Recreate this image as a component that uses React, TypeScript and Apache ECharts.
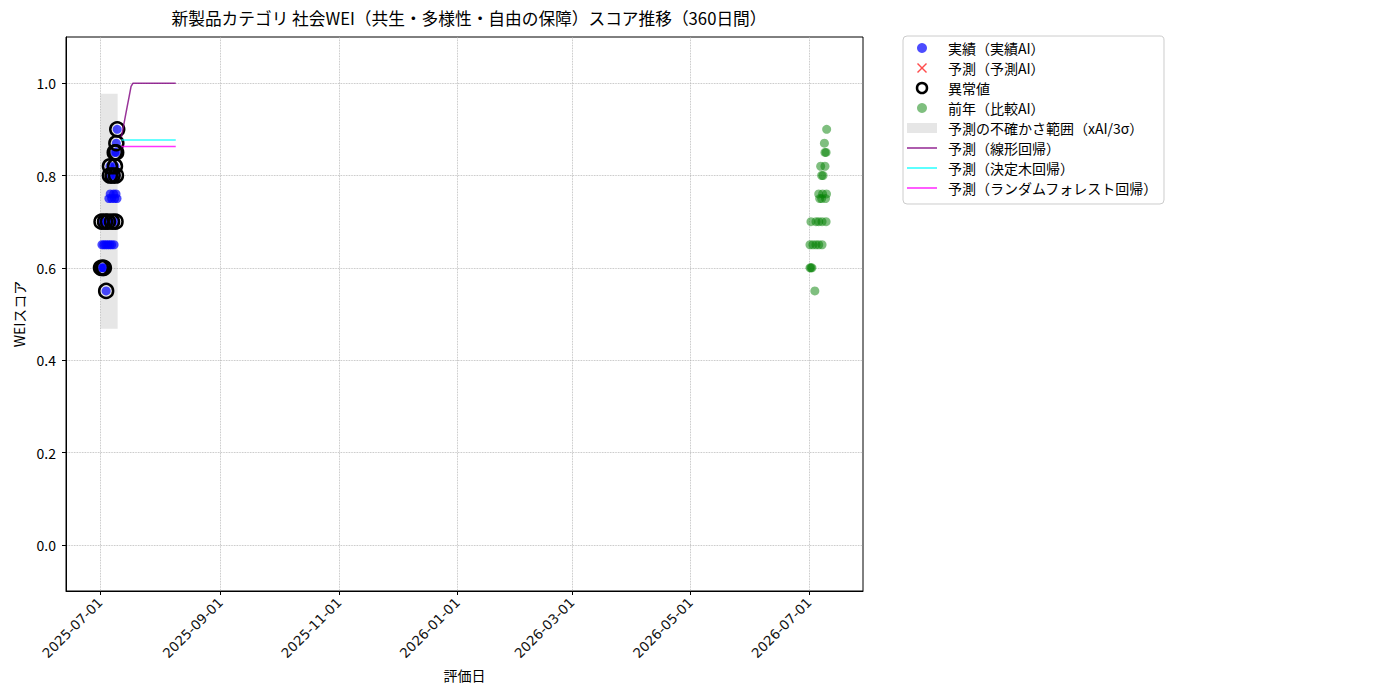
import { useEffect, useRef } from 'react';
import * as echarts from 'echarts';

// "YYYY-MM-DD HH" -> local timestamp
const t = (s: string) => {
  const [d, h] = s.split(' ');
  const [Y, M, D] = d.split('-').map(Number);
  return new Date(Y, M - 1, D, h ? Number(h) : 0).getTime();
};

const titleText = '新製品カテゴリ 社会WEI（共生・多様性・自由の保障）スコア推移（360日間）';

const xMin = '2025-06-13 12';
const xMax = '2026-07-28 19';
const xTickDates = ['2025-07-01', '2025-09-01', '2025-11-01', '2026-01-01', '2026-03-01', '2026-05-01', '2026-07-01'];
const yTicks = [0, 0.2, 0.4, 0.6, 0.8, 1.0];

// 実績（実績AI）
const actualDates = [
  '2025-07-01 12', '2025-07-02 12', '2025-07-03 00',
  '2025-07-04 04',
  '2025-07-02 00', '2025-07-03 00', '2025-07-04 00', '2025-07-05 00', '2025-07-06 00', '2025-07-07 00', '2025-07-08 06',
  '2025-07-01 19', '2025-07-03 14', '2025-07-05 02', '2025-07-07 05', '2025-07-09 00',
  '2025-07-05 14', '2025-07-07 00', '2025-07-08 12', '2025-07-09 18',
  '2025-07-06 06', '2025-07-08 00', '2025-07-09 06',
  '2025-07-06 03', '2025-07-07 12', '2025-07-09 05',
  '2025-07-06 03', '2025-07-08 17',
  '2025-07-08 14', '2025-07-09 08',
  '2025-07-09 10',
  '2025-07-09 21',
];
const actualValues = [
  0.60, 0.60, 0.60,
  0.55,
  0.65, 0.65, 0.65, 0.65, 0.65, 0.65, 0.65,
  0.70, 0.70, 0.70, 0.70, 0.70,
  0.75, 0.75, 0.75, 0.75,
  0.76, 0.76, 0.76,
  0.80, 0.80, 0.80,
  0.82, 0.82,
  0.85, 0.85,
  0.87,
  0.90,
];

// 予測（予測AI）: no points in this chart
const predAiDates: string[] = [];
const predAiValues: number[] = [];

// 異常値
const outlierDates = [
  '2025-07-01 12', '2025-07-02 12', '2025-07-03 00',
  '2025-07-04 04',
  '2025-07-01 19', '2025-07-03 14', '2025-07-05 02', '2025-07-07 05', '2025-07-09 00',
  '2025-07-06 03', '2025-07-07 12', '2025-07-09 05',
  '2025-07-06 03', '2025-07-08 17',
  '2025-07-08 14', '2025-07-09 08',
  '2025-07-09 10',
  '2025-07-09 21',
];
const outlierValues = [
  0.60, 0.60, 0.60,
  0.55,
  0.70, 0.70, 0.70, 0.70, 0.70,
  0.80, 0.80, 0.80,
  0.82, 0.82,
  0.85, 0.85,
  0.87,
  0.90,
];

// 前年（比較AI）
const prevDates = [
  '2026-07-01 12', '2026-07-02 00', '2026-07-02 12',
  '2026-07-04 00',
  '2026-07-01 12', '2026-07-03 00', '2026-07-04 14', '2026-07-06 00', '2026-07-07 17',
  '2026-07-02 00', '2026-07-04 14', '2026-07-06 00', '2026-07-07 17', '2026-07-09 19',
  '2026-07-06 12', '2026-07-07 12', '2026-07-09 12',
  '2026-07-06 00', '2026-07-08 00', '2026-07-10 00',
  '2026-07-07 12', '2026-07-08 05',
  '2026-07-07 00', '2026-07-09 05',
  '2026-07-09 05', '2026-07-09 19',
  '2026-07-08 22',
  '2026-07-10 02',
];
const prevValues = [
  0.60, 0.60, 0.60,
  0.55,
  0.65, 0.65, 0.65, 0.65, 0.65,
  0.70, 0.70, 0.70, 0.70, 0.70,
  0.75, 0.75, 0.75,
  0.76, 0.76, 0.76,
  0.80, 0.80,
  0.82, 0.82,
  0.85, 0.85,
  0.87,
  0.90,
];

// 予測の不確かさ範囲（xAI/3σ）
const bandDates = ['2025-07-01 08', '2025-07-10 02'];
const bandLower = [0.468, 0.468];
const bandUpper = [0.977, 0.977];

// 予測ライン
const predDates = [
  '2025-07-12', '2025-07-13', '2025-07-14', '2025-07-15', '2025-07-16', '2025-07-17', '2025-07-18',
  '2025-07-19', '2025-07-20', '2025-07-21', '2025-07-22', '2025-07-23', '2025-07-24', '2025-07-25',
  '2025-07-26', '2025-07-27', '2025-07-28', '2025-07-29', '2025-07-30', '2025-07-31', '2025-08-01',
  '2025-08-02', '2025-08-03', '2025-08-04', '2025-08-05', '2025-08-06', '2025-08-07', '2025-08-08',
  '2025-08-09',
];
const linearPred = [
  0.883, 0.905, 0.927, 0.949, 0.971, 0.993, 1.0,
  1.0, 1.0, 1.0, 1.0, 1.0, 1.0, 1.0,
  1.0, 1.0, 1.0, 1.0, 1.0, 1.0, 1.0,
  1.0, 1.0, 1.0, 1.0, 1.0, 1.0, 1.0,
  1.0,
];
const treePred = [
  0.877, 0.877, 0.877, 0.877, 0.877, 0.877, 0.877,
  0.877, 0.877, 0.877, 0.877, 0.877, 0.877, 0.877,
  0.877, 0.877, 0.877, 0.877, 0.877, 0.877, 0.877,
  0.877, 0.877, 0.877, 0.877, 0.877, 0.877, 0.877,
  0.877,
];
const forestPred = [
  0.863, 0.863, 0.863, 0.863, 0.863, 0.863, 0.863,
  0.863, 0.863, 0.863, 0.863, 0.863, 0.863, 0.863,
  0.863, 0.863, 0.863, 0.863, 0.863, 0.863, 0.863,
  0.863, 0.863, 0.863, 0.863, 0.863, 0.863, 0.863,
  0.863,
];

const FONT = '"Noto Sans CJK JP", "Noto Sans", sans-serif';
const gridLine = { show: true, lineStyle: { color: '#b0b0b0', type: 'dotted' as const, width: 0.8 } };
const xIcon = 'path://M1,0L5,4L9,0L10,1L6,5L10,9L9,10L5,6L1,10L0,9L4,5L0,1Z';
const lineIcon = 'path://M0,0H30V1.6H0Z';

const pad = (n: number) => String(n).padStart(2, '0');
const fmtDate = (v: number) => {
  const d = new Date(v);
  return `${d.getFullYear()}-${pad(d.getMonth() + 1)}-${pad(d.getDate())}`;
};

const pairs = (dates: string[], values: number[]) => dates.map((d, i) => [t(d), values[i]]);

export default function App() {
  const chartRef = useRef<HTMLDivElement>(null);

  useEffect(() => {
    if (!chartRef.current) return;
    const chart = echarts.init(chartRef.current, undefined, { renderer: 'svg' });

    const bandName = '予測の不確かさ範囲（xAI/3σ）';

    const option: echarts.EChartsOption = {
      animation: false,
      backgroundColor: '#fff',
      textStyle: { fontFamily: FONT },
      title: {
        text: titleText,
        left: 464,
        top: 5,
        textAlign: 'center',
        textStyle: { fontFamily: FONT, fontSize: 16.7, fontWeight: 'normal', color: '#000' },
      },
      grid: {
        left: 66,
        right: 537,
        top: 37,
        bottom: 109,
        show: true,
        borderColor: '#000',
        borderWidth: 1,
        backgroundColor: 'transparent',
      },
      legend: {
        orient: 'vertical',
        left: 903,
        top: 36,
        padding: [5, 6, 9, 4],
        itemWidth: 30,
        itemHeight: 10,
        itemGap: 6,
        borderColor: '#ccc',
        borderWidth: 1,
        borderRadius: 4,
        backgroundColor: 'rgba(255,255,255,0.8)',
        textStyle: { fontFamily: FONT, fontSize: 14, color: '#000', padding: [0, 0, 0, 6] },
        data: [
          { name: '実績（実績AI）', icon: 'circle', itemStyle: { color: 'blue', opacity: 0.7 } },
          { name: '予測（予測AI）', icon: xIcon, itemStyle: { color: 'red', opacity: 0.7 } },
          { name: '異常値', icon: 'circle', itemStyle: { color: 'rgba(0,0,0,0)', borderColor: '#000', borderWidth: 2.5, opacity: 1 } },
          { name: '前年（比較AI）', icon: 'circle', itemStyle: { color: 'green', opacity: 0.5 } },
          { name: bandName, icon: 'rect', itemStyle: { color: 'rgba(128,128,128,0.2)', opacity: 1 } },
          { name: '予測（線形回帰）', icon: lineIcon, itemStyle: { color: 'rgba(128,0,128,0.8)', opacity: 1 } },
          { name: '予測（決定木回帰）', icon: lineIcon, itemStyle: { color: 'rgba(0,255,255,0.8)', opacity: 1 } },
          { name: '予測（ランダムフォレスト回帰）', icon: lineIcon, itemStyle: { color: 'rgba(255,0,255,0.8)', opacity: 1 } },
        ],
      },
      xAxis: {
        type: 'value',
        min: t(xMin),
        max: t(xMax),
        name: '評価日',
        nameLocation: 'middle',
        nameGap: 77,
        nameTextStyle: { fontFamily: FONT, fontSize: 14, color: '#000' },
        axisLine: { show: true, onZero: false, lineStyle: { color: '#000', width: 1 } },
        axisTick: { show: true, length: 4, lineStyle: { color: '#000' }, customValues: xTickDates.map(t) },
        axisLabel: {
          customValues: xTickDates.map(t),
          rotate: 45,
          margin: 9,
          fontSize: 13.5,
          color: '#111',
          fontFamily: '"DejaVu Sans", sans-serif',
          formatter: (v: number) => fmtDate(v),
        },
        splitLine: gridLine,
      },
      yAxis: {
        type: 'value',
        min: -0.1,
        max: 1.1,
        name: 'WEIスコア',
        nameLocation: 'middle',
        nameGap: 40,
        nameRotate: 90,
        nameTextStyle: { fontFamily: FONT, fontSize: 14, color: '#000' },
        axisLine: { show: true, onZero: false, lineStyle: { color: '#000', width: 1 } },
        axisTick: { show: true, length: 4, lineStyle: { color: '#000' }, customValues: yTicks },
        axisLabel: {
          customValues: yTicks,
          margin: 10,
          fontSize: 14,
          color: '#000',
          fontFamily: FONT,
          formatter: (v: number) => v.toFixed(1),
        },
        splitLine: gridLine,
      },
      series: [
        {
          type: 'custom',
          name: bandName,
          itemStyle: { color: 'rgba(128,128,128,0.2)' },
          encode: { x: 0, y: [1, 2] },
          data: bandDates.map((d, i) => [t(d), bandLower[i], bandUpper[i]]),
          renderItem: (params: any, api: any) => {
            const i = params.dataIndex;
            if (i >= bandDates.length - 1) return null;
            const x0 = t(bandDates[i]);
            const x1 = t(bandDates[i + 1]);
            const pts = [
              api.coord([x0, bandLower[i]]),
              api.coord([x1, bandLower[i + 1]]),
              api.coord([x1, bandUpper[i + 1]]),
              api.coord([x0, bandUpper[i]]),
            ];
            return { type: 'polygon', shape: { points: pts }, style: { fill: 'rgba(128,128,128,0.2)' } };
          },
        },
        {
          type: 'scatter',
          name: '前年（比較AI）',
          symbol: 'circle',
          symbolSize: 9,
          itemStyle: { color: 'green', opacity: 0.5 },
          data: pairs(prevDates, prevValues),
        },
        {
          type: 'scatter',
          name: '実績（実績AI）',
          symbol: 'circle',
          symbolSize: 9,
          itemStyle: { color: 'blue', opacity: 0.7 },
          data: pairs(actualDates, actualValues),
        },
        {
          type: 'scatter',
          name: '予測（予測AI）',
          symbol: xIcon,
          symbolSize: 10,
          itemStyle: { color: 'red', opacity: 0.7 },
          data: pairs(predAiDates, predAiValues),
        },
        {
          type: 'scatter',
          name: '異常値',
          symbol: 'circle',
          symbolSize: 14,
          itemStyle: { color: 'rgba(0,0,0,0)', borderColor: '#000', borderWidth: 2.5, opacity: 1 },
          data: pairs(outlierDates, outlierValues),
        },
        {
          type: 'line',
          name: '予測（線形回帰）',
          symbol: 'none',
          color: 'rgba(128,0,128,0.8)',
          lineStyle: { width: 1.5, color: 'rgba(128,0,128,0.8)' },
          data: pairs(predDates, linearPred),
        },
        {
          type: 'line',
          name: '予測（決定木回帰）',
          symbol: 'none',
          color: 'rgba(0,255,255,0.8)',
          lineStyle: { width: 1.5, color: 'rgba(0,255,255,0.8)' },
          data: pairs(predDates, treePred),
        },
        {
          type: 'line',
          name: '予測（ランダムフォレスト回帰）',
          symbol: 'none',
          color: 'rgba(255,0,255,0.8)',
          lineStyle: { width: 1.5, color: 'rgba(255,0,255,0.8)' },
          data: pairs(predDates, forestPred),
        },
      ],
    };

    chart.setOption(option);
    return () => chart.dispose();
  }, []);

  return <div ref={chartRef} style={{ position: 'fixed', left: 0, top: 0, width: 1400, height: 700 }} />;
}
